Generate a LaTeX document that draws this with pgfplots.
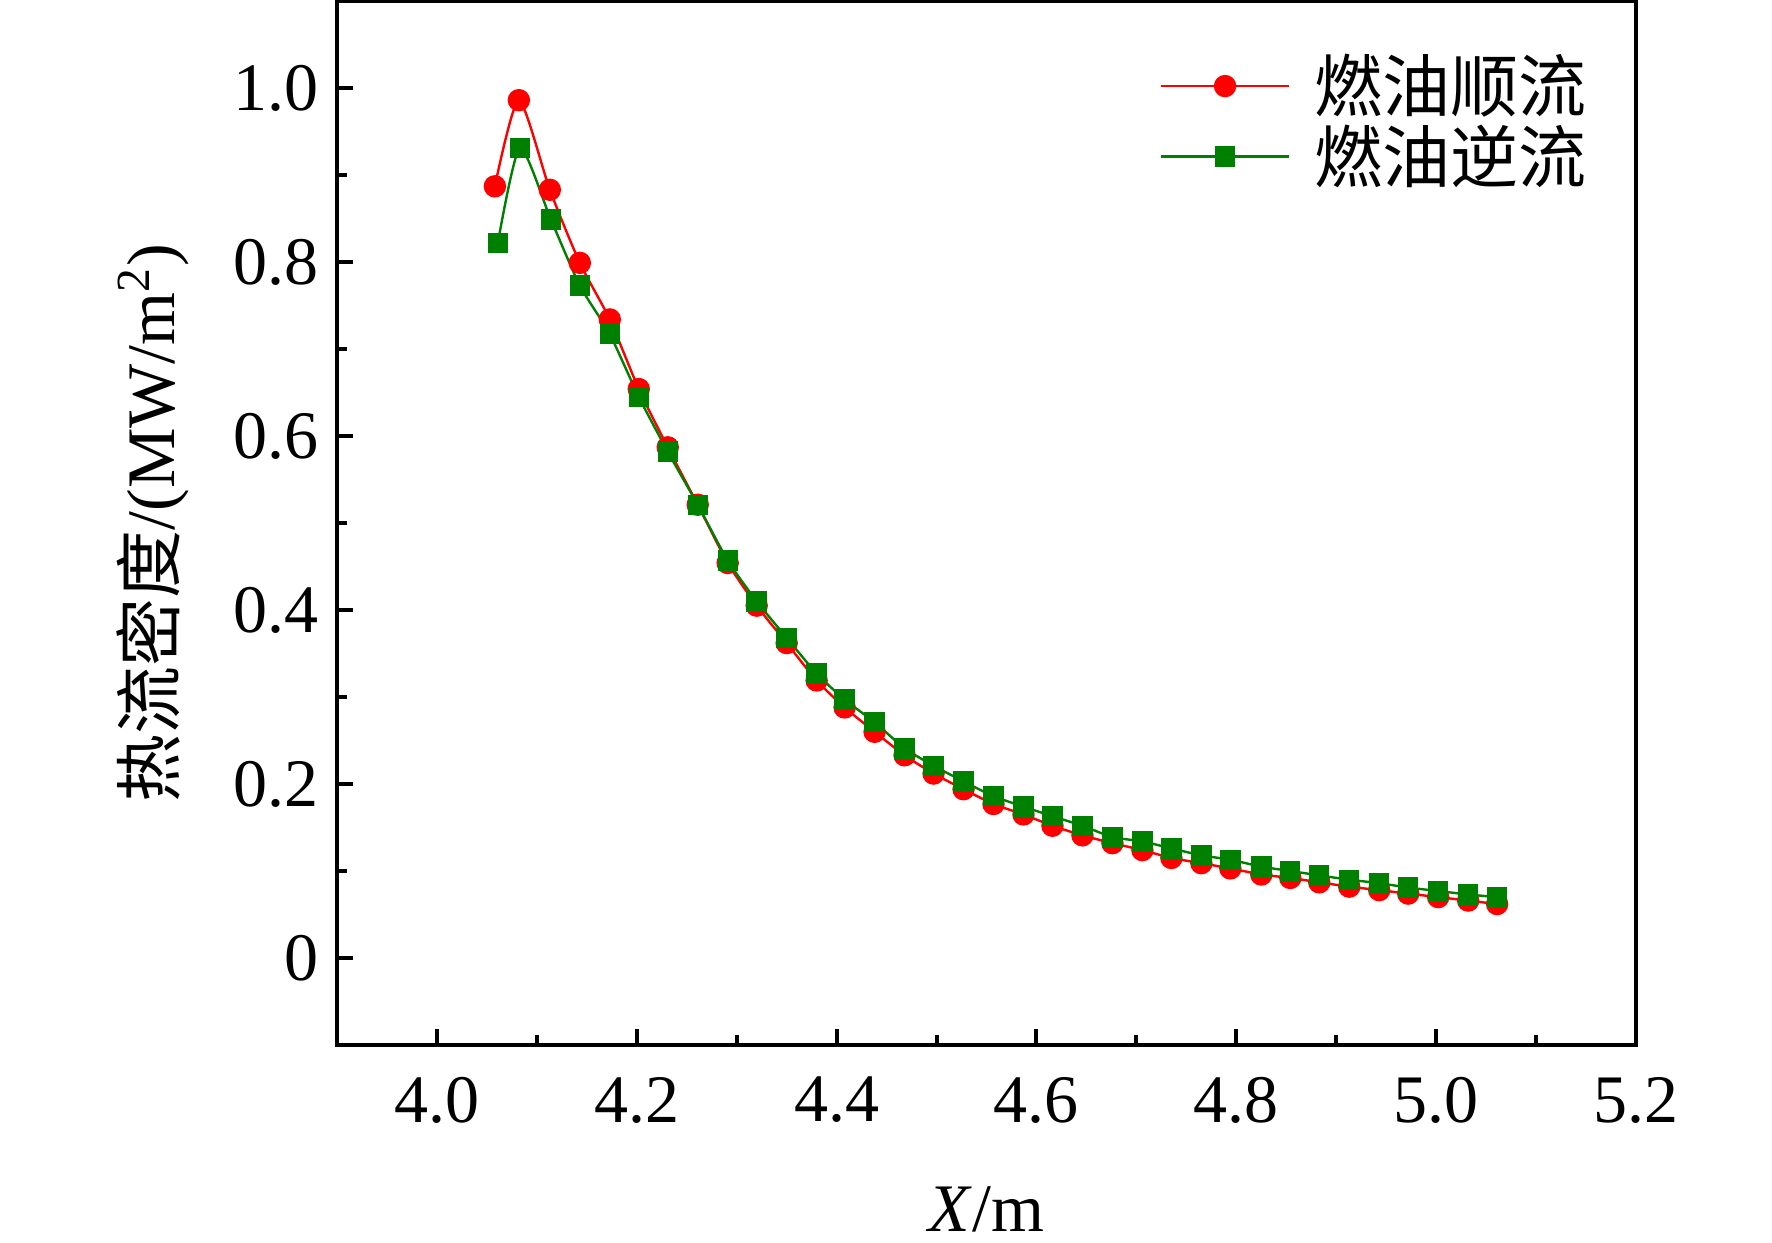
\documentclass[border=0pt]{standalone}
\usepackage{pgfplots}
\pgfplotsset{compat=1.18}
\usepackage{fontspec}
\setmainfont{Liberation Serif}
\newfontfamily\cjk{Noto Sans CJK SC}
\definecolor{myred}{RGB}{255,0,0}
\definecolor{mygreen}{RGB}{0,128,0}
\begin{document}
\begin{tikzpicture}
\path[use as bounding box] (-84.25pt,-49.25pt) rectangle (358.75pt,261.25pt);
\begin{axis}[
  at={(0,0)}, anchor=south west,
  scale only axis, width=324.75pt, height=261pt,
  xmin=3.9, xmax=5.2, ymin=-0.1, ymax=1.1,
  xtick={4.0,4.2,4.4,4.6,4.8,5.0,5.2},
  xticklabels={4.0,4.2,4.4,4.6,4.8,5.0,5.2},
  ytick={0,0.2,0.4,0.6,0.8,1.0},
  yticklabels={0,0.2,0.4,0.6,0.8,1.0},
  minor x tick num=1, minor y tick num=1,
  xtick pos=bottom, ytick pos=left, tick align=inside,
  major tick length=4pt, minor tick length=2.5pt,
  axis line style={line width=1pt},
  every tick/.style={black, line width=1pt},
  /pgf/number format/assume math mode=true,
  ticklabel style={font=\fontsize{17}{20}\selectfont},
  xticklabel style={yshift=-4.5pt},
  yticklabel style={xshift=-1pt},
  xlabel={\textit{X}/m},
  ylabel={{\cjk 热流密度}/(MW/m\textsuperscript{2})},
  label style={font=\fontsize{17}{20}\selectfont},
  xlabel style={at={(axis description cs:0.5,-0.157)}, anchor=center},
  ylabel style={at={(axis description cs:-0.1417,0.5)}, anchor=center},
  legend style={at={(axis description cs:0.6236,0.965)}, anchor=north west, draw=none, fill=none,
    font=\cjk\fontsize{17}{20}\selectfont, row sep=-2.3pt,
    /tikz/every odd column/.append style={column sep=4pt}},
  legend cell align=left,
  legend image code/.code={
    \draw[#1, mark=none] (0pt,0pt) -- (32pt,0pt);
    \draw[#1, only marks] plot coordinates {(16pt,0pt)};
  },
]
\addplot[myred, line width=0.6pt, smooth, tension=0.4, mark=*, mark size=2.5pt, mark options={fill=myred, draw=myred}] coordinates {
(4.058,0.887) (4.082,0.986) (4.113,0.883) (4.143,0.799) (4.173,0.734) (4.202,0.654) (4.231,0.587) (4.261,0.521) (4.291,0.454) (4.320,0.405) (4.350,0.362) (4.380,0.319) (4.408,0.288) (4.438,0.260) (4.468,0.233) (4.497,0.212) (4.527,0.194) (4.557,0.177) (4.587,0.165) (4.616,0.152) (4.646,0.141) (4.676,0.132) (4.706,0.124) (4.735,0.115) (4.765,0.109) (4.794,0.103) (4.825,0.096) (4.854,0.092) (4.883,0.087) (4.913,0.082) (4.943,0.078) (4.972,0.074) (5.002,0.070) (5.032,0.066) (5.061,0.062)
};
\addlegendentry{燃油顺流}
\addplot[mygreen, line width=0.6pt, smooth, tension=0.4, mark=square*, mark size=2.25pt, mark options={fill=mygreen, draw=mygreen}] coordinates {
(4.061,0.822) (4.083,0.931) (4.114,0.849) (4.143,0.773) (4.173,0.717) (4.202,0.645) (4.231,0.582) (4.261,0.521) (4.291,0.457) (4.320,0.410) (4.350,0.368) (4.380,0.327) (4.408,0.297) (4.438,0.271) (4.468,0.241) (4.497,0.221) (4.527,0.203) (4.557,0.186) (4.587,0.174) (4.616,0.163) (4.646,0.152) (4.676,0.139) (4.706,0.134) (4.735,0.126) (4.765,0.118) (4.794,0.113) (4.825,0.105) (4.854,0.100) (4.883,0.095) (4.913,0.090) (4.943,0.086) (4.972,0.081) (5.002,0.077) (5.032,0.073) (5.061,0.070)
};
\addlegendentry{燃油逆流}
\end{axis}
\end{tikzpicture}
\end{document}
